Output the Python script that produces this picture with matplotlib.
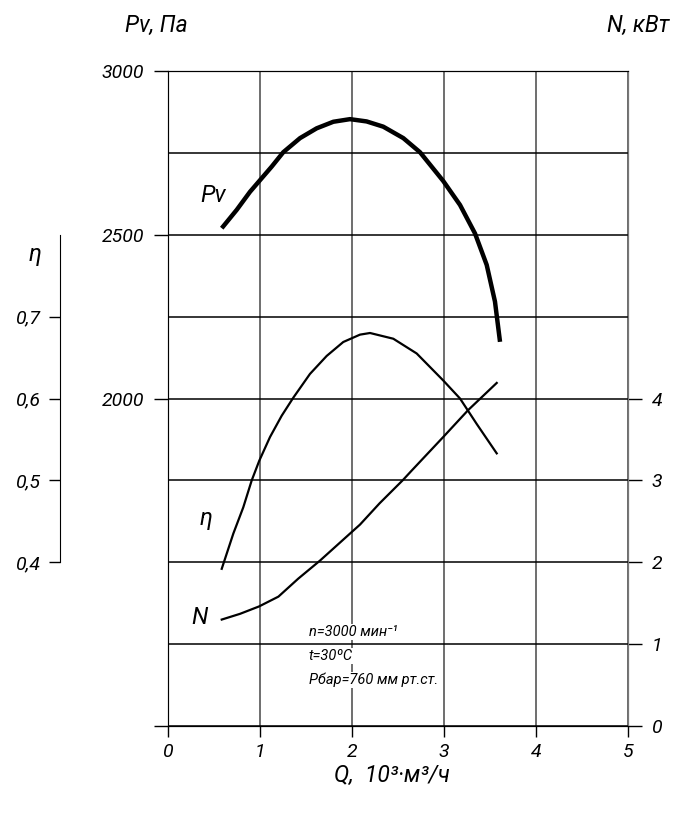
import matplotlib
matplotlib.use('Agg')
import matplotlib.pyplot as plt

plt.rcParams['font.family'] = ['Roboto', 'DejaVu Sans']
plt.rcParams['font.style'] = 'italic'

# curve data
q_pv = [0.584, 0.747, 0.891, 0.992, 1.127, 1.253, 1.435, 1.616, 1.797, 1.978, 2.159,
        2.340, 2.558, 2.739, 2.992, 3.174, 3.337, 3.464, 3.554, 3.609]
pv = [2520, 2576, 2631, 2664, 2708, 2752, 2795, 2825, 2845, 2853, 2846,
      2830, 2795, 2752, 2664, 2591, 2504, 2408, 2296, 2173]

q_eta = [0.584, 0.710, 0.818, 0.910, 0.992, 1.109, 1.236, 1.362, 1.543, 1.725, 1.905,
         2.087, 2.196, 2.449, 2.703, 2.992, 3.174, 3.355, 3.573]
eta = [0.392, 0.435, 0.467, 0.500, 0.524, 0.553, 0.579, 0.601, 0.630, 0.652, 0.669,
       0.678, 0.680, 0.673, 0.655, 0.622, 0.600, 0.569, 0.533]

q_n = [0.584, 0.783, 0.989, 1.2, 1.416, 1.652, 1.978, 2.087, 2.3, 2.55, 2.649,
       2.992, 3.264, 3.573]
n_kw = [1.30, 1.37, 1.46, 1.58, 1.80, 2.02, 2.35, 2.46, 2.72, 3.0, 3.12,
        3.53, 3.86, 4.19]

x_ticks = [0, 1, 2, 3, 4, 5]
pv_ticks = [1000, 2000, 2500, 3000]
pv_labels = ['', '2000', '2500', '3000']
pv_minor = [1250, 1500, 1750, 2250, 2750]
n_ticks = [0, 1, 2, 3, 4]
eta_ticks = [0.4, 0.5, 0.6, 0.7]
eta_labels = ['0,4', '0,5', '0,6', '0,7']
notes = ['n=3000 мин⁻¹', 't=30ºC', 'Рбар=760 мм рт.ст.']

fig = plt.figure(figsize=(6.81, 8.24), dpi=100)
rect = [168 / 681, 98 / 824, 460 / 681, 655 / 824]
ax = fig.add_axes(rect)
ax.set_xlim(0, 5)
ax.set_ylim(1000, 3000)
ax.set_xticks(x_ticks)
ax.set_yticks(pv_ticks)
ax.set_yticklabels(pv_labels)
ax.set_yticks(pv_minor, minor=True)
ax.tick_params(axis='y', which='major', direction='out', length=10, width=1, pad=7, labelsize=14)
ax.tick_params(axis='y', which='minor', length=0)
ax.tick_params(axis='x', direction='out', length=8, width=1, pad=4, labelsize=14)
ax.grid(axis='y', which='both', color='black', lw=1.1)
ax.grid(axis='x', color='#555555', lw=1.2)
ax.set_axisbelow(True)
for s in ['left', 'right']:
    ax.spines[s].set_color('#555555')

ax.plot(q_pv, pv, color='black', lw=3.2, solid_capstyle='butt', zorder=5)

# N axis on the right
axn = ax.twinx()
axn.set_ylim(0, 8)
axn.set_yticks(n_ticks)
axn.tick_params(axis='y', direction='out', length=10, width=1, pad=7, labelsize=14)
axn.spines['right'].set_color('#777777')
axn.plot(q_n, n_kw, color='black', lw=1.6, zorder=5)

# eta axis on the far left (108 px outside the main frame)
axe = fig.add_axes(rect)
axe.patch.set_visible(False)
for s in ['right', 'top', 'bottom']:
    axe.spines[s].set_visible(False)
axe.spines['left'].set_position(('outward', 108 * 0.72))
axe.spines['left'].set_bounds(0.4, 0.8)
axe.set_xlim(0, 5)
axe.set_ylim(0.2, 1.0)
axe.set_xticks([])
axe.set_yticks(eta_ticks)
axe.set_yticklabels(eta_labels)
axe.tick_params(axis='y', direction='out', length=8, width=1, pad=6, labelsize=14)
axe.plot(q_eta, eta, color='black', lw=1.6, zorder=5)

# labels
fig.text(156 / 681, 1 - 25 / 824, 'Pv, Па', ha='center', va='center', fontsize=16.5)
fig.text(638 / 681, 1 - 25 / 824, 'N, кВт', ha='center', va='center', fontsize=16.5)
fig.text(35 / 681, 1 - 255 / 824, 'η', ha='center', va='center', fontsize=17)
fig.text(392 / 681, 1 - 775 / 824, 'Q,  10³·м³/ч', ha='center', va='center', fontsize=16.5)
fig.text(213 / 681, 1 - 195 / 824, 'Pv', ha='center', va='center', fontsize=17)
fig.text(206 / 681, 1 - 518 / 824, 'η', ha='center', va='center', fontsize=17)
fig.text(200 / 681, 1 - 618 / 824, 'N', ha='center', va='center', fontsize=17)
for i, t in enumerate(notes):
    fig.text(309 / 681, 1 - (632 + 24 * i) / 824, t, ha='left', va='center', fontsize=10.5,
             bbox=dict(facecolor='white', edgecolor='none', pad=0.5))

fig.savefig('out.png', dpi=100)
